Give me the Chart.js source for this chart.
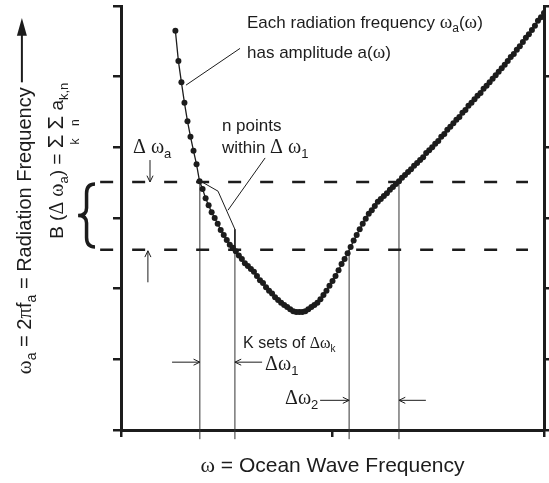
<!DOCTYPE html>
<html>
<head>
<meta charset="utf-8">
<script src="https://cdn.jsdelivr.net/npm/chart.js@4.4.1/dist/chart.umd.min.js"></script>
<style>
  html, body { margin: 0; padding: 0; background: #fff; }
  #wrap { width: 549px; height: 483px; }
</style>
</head>
<body>
<div id="wrap"><canvas id="chart" width="549" height="483"></canvas></div>
<script>
// ocean wave frequency samples (x) and radiation frequency (y)
const omega = [
  18, 19, 20, 21, 22, 23, 24, 25, 26, 27, 28, 29, 30, 31, 32, 33, 34, 35, 36, 37,
  38, 39, 40, 41, 42, 43, 44, 45, 46, 47, 48, 49, 50, 51, 52, 53, 54, 55, 56, 57,
  58, 59, 60, 61, 62, 63, 64, 65, 66, 67, 68, 69, 70, 71, 72, 73, 74, 75, 76, 77,
  78, 79, 80, 81, 82, 83, 84, 85, 86, 87, 88, 89, 90, 91, 92, 93, 94, 95, 96, 97,
  98, 99, 100, 101, 102, 103, 104, 105, 106, 107, 108, 109, 110, 111, 112, 113, 114, 115, 116, 117,
  118, 119, 120, 121, 122, 123, 124, 125, 126, 127, 128, 129, 130, 131, 132, 133, 134, 135, 136, 137,
  138, 139, 140
];
const omegaA = [
  56.5, 52.2, 49.2, 46.3, 43.7, 41.5, 39.5, 37.6, 35.2, 34.1, 32.8, 31.8, 30.8, 30.0, 29.2, 28.3, 27.6, 26.9, 26.2, 25.8,
  25.3, 24.7, 24.2, 23.6, 23.2, 22.8, 22.4, 21.8, 21.2, 20.8, 20.2, 19.7, 19.3, 18.8, 18.4, 18.0, 17.7, 17.4, 17.1, 16.8,
  16.7, 16.7, 16.7, 16.8, 17.1, 17.4, 17.7, 18.0, 18.5, 19.1, 19.7, 20.4, 21.1, 21.8, 22.6, 23.5, 24.2, 25.0, 25.9, 26.8,
  27.6, 28.4, 29.2, 29.9, 30.6, 31.1, 31.7, 32.3, 32.7, 33.1, 33.5, 34.0, 34.4, 34.8, 35.2, 35.7, 36.1, 36.5, 36.9, 37.4,
  37.8, 38.2, 38.6, 39.2, 39.6, 40.0, 40.5, 40.9, 41.5, 41.9, 42.5, 42.9, 43.4, 43.9, 44.3, 44.9, 45.3, 45.9, 46.3, 46.8,
  47.3, 47.7, 48.3, 48.7, 49.2, 49.7, 50.2, 50.7, 51.2, 51.7, 52.2, 52.8, 53.2, 53.8, 54.3, 54.9, 55.5, 56.0, 56.6, 57.2,
  57.9, 58.4, 59.0
];
const xTicks = [0, 70, 140];
const yTicks = [0, 10, 20, 30, 40, 50, 60];

// band limits: Δωa on the radiation axis, Δω1 / Δω2 on the wave axis
const bandA = [25.5, 35.1];
const band1 = [26.1, 37.7];
const band2 = [75.5, 92.0];

const INK = "#1c1c1c";
const SANS = '"Liberation Sans", Arial, sans-serif';
const SERIF = '"Liberation Serif", "Times New Roman", serif';
const f = (size, fam) => size + "px " + fam;

function seg(points, extra) {
  return Object.assign({
    data: points.map(p => ({ x: p[0], y: p[1] })),
    showLine: true,
    borderColor: INK,
    borderWidth: 1,
    pointRadius: 0,
    clip: false,
    tension: 0
  }, extra || {});
}

function drawRuns(ctx, x, y, runs, align) {
  let w = 0;
  runs.forEach(r => { ctx.font = r.f; r.w = ctx.measureText(r.t).width; w += r.w; });
  let cx = align === "center" ? x - w / 2 : x;
  runs.forEach(r => {
    ctx.font = r.f;
    ctx.fillText(r.t, cx, y + (r.dy || 0));
    r.x = cx;
    cx += r.w;
  });
  return runs;
}

function arrow(ctx, x1, y1, x2, y2, head) {
  const a = Math.atan2(y2 - y1, x2 - x1);
  ctx.beginPath();
  ctx.moveTo(x1, y1);
  ctx.lineTo(x2, y2);
  ctx.moveTo(x2 - head * Math.cos(a - 0.45), y2 - head * Math.sin(a - 0.45));
  ctx.lineTo(x2, y2);
  ctx.lineTo(x2 - head * Math.cos(a + 0.45), y2 - head * Math.sin(a + 0.45));
  ctx.stroke();
}

const annotate = {
  id: "annotate",
  afterDraw(chart) {
    const ctx = chart.ctx;
    const X = v => chart.scales.x.getPixelForValue(v);
    const Y = v => chart.scales.y.getPixelForValue(v);
    ctx.save();
    ctx.fillStyle = INK;
    ctx.strokeStyle = INK;
    ctx.textBaseline = "alphabetic";

    // labels inside the plot
    drawRuns(ctx, X(41.7), Y(56.9), [
      { t: "Each radiation frequency ", f: f(17, SANS) },
      { t: "ω", f: f(19, SERIF) },
      { t: "a", f: f(12, SANS), dy: 4 },
      { t: "(", f: f(17, SANS) },
      { t: "ω", f: f(19, SERIF) },
      { t: ")", f: f(17, SANS) }
    ]);
    drawRuns(ctx, X(41.7), Y(52.6), [
      { t: "has amplitude a(", f: f(17, SANS) },
      { t: "ω", f: f(19, SERIF) },
      { t: ")", f: f(17, SANS) }
    ]);
    drawRuns(ctx, X(4.0), Y(39.2), [
      { t: "Δ ω", f: f(20, SERIF) },
      { t: "a", f: f(13, SANS), dy: 5 }
    ]);
    drawRuns(ctx, X(33.4), Y(42.3), [{ t: "n points", f: f(17, SANS) }]);
    drawRuns(ctx, X(33.4), Y(39.2), [
      { t: "within ", f: f(17, SANS) },
      { t: "Δ ω", f: f(20, SERIF) },
      { t: "1", f: f(13, SANS), dy: 5 }
    ]);
    drawRuns(ctx, X(40.4), Y(11.6), [
      { t: "K sets of ", f: f(16, SANS) },
      { t: "Δω", f: f(16, SERIF) },
      { t: "k", f: f(10, SANS), dy: 4 }
    ]);
    drawRuns(ctx, X(47.7), Y(8.5), [
      { t: "Δω", f: f(20, SERIF) },
      { t: "1", f: f(13, SANS), dy: 5 }
    ]);
    drawRuns(ctx, X(54.3), Y(3.7), [
      { t: "Δω", f: f(20, SERIF) },
      { t: "2", f: f(13, SANS), dy: 5 }
    ]);

    // arrows
    ctx.lineWidth = 1;
    arrow(ctx, X(9.6), Y(38.2), X(9.6), Y(bandA[1]), 7);
    arrow(ctx, X(8.9), Y(20.9), X(8.9), Y(bandA[0]) + 1, 7);
    arrow(ctx, X(16.9), Y(9.6), X(band1[0]), Y(9.6), 7);
    arrow(ctx, X(46.7), Y(9.6), X(band1[1]), Y(9.6), 7);
    arrow(ctx, X(65.9), Y(4.2), X(band2[0]), Y(4.2), 7);
    arrow(ctx, X(100.9), Y(4.2), X(band2[1]), Y(4.2), 7);

    // x title
    drawRuns(ctx, X(70), Y(-5.9), [
      { t: "ω", f: f(22, SERIF) },
      { t: " = Ocean Wave Frequency", f: f(21, SANS) }
    ], "center");

    // y title, rotated
    ctx.save();
    ctx.translate(X(-29.8), Y(28.2));
    ctx.rotate(-Math.PI / 2);
    drawRuns(ctx, 0, 0, [
      { t: "ω", f: f(21, SERIF) },
      { t: "a", f: f(14, SANS), dy: 5 },
      { t: " = 2", f: f(20, SANS) },
      { t: "π", f: f(21, SERIF) },
      { t: "f", f: f(20, SANS) },
      { t: "a", f: f(14, SANS), dy: 5 },
      { t: " = Radiation Frequency", f: f(20, SANS) }
    ], "center");
    ctx.restore();

    // arrow above the y title
    const ax = X(-32.8);
    ctx.lineWidth = 2;
    ctx.beginPath();
    ctx.moveTo(ax, Y(49.2));
    ctx.lineTo(ax, Y(56));
    ctx.stroke();
    ctx.beginPath();
    ctx.moveTo(ax, Y(58.3));
    ctx.lineTo(ax - 5, Y(55.8));
    ctx.lineTo(ax + 5, Y(55.8));
    ctx.closePath();
    ctx.fill();

    // B(Δωa) label, rotated
    ctx.save();
    ctx.translate(X(-19.2), Y(38.1));
    ctx.rotate(-Math.PI / 2);
    const runs = drawRuns(ctx, 0, 0, [
      { t: "B (", f: f(19, SANS) },
      { t: "Δ ω", f: f(20, SERIF) },
      { t: "a", f: f(13, SANS), dy: 5 },
      { t: ") = ", f: f(19, SANS) },
      { t: "Σ", f: f(22, SANS) },
      { t: " ", f: f(19, SANS) },
      { t: "Σ", f: f(22, SANS) },
      { t: " a", f: f(19, SANS) },
      { t: "k,n", f: f(13, SANS), dy: 5 }
    ], "center");
    ctx.font = f(12, SANS);
    ctx.textAlign = "center";
    ctx.fillText("k", runs[4].x + runs[4].w / 2, 16);
    ctx.fillText("n", runs[6].x + runs[6].w / 2, 16);
    ctx.restore();

    // curly brace over the Δωa band
    const xe = X(-8.6), xt = X(-14.2), xm = (xe + xt) / 2;
    const yt = Y(34.8), yb = Y(25.9), ym = (yt + yb) / 2, h = yb - yt;
    ctx.lineWidth = 3.5;
    ctx.beginPath();
    ctx.moveTo(xe, yt);
    ctx.quadraticCurveTo(xm, yt, xm, yt + h * 0.15);
    ctx.lineTo(xm, ym - h * 0.12);
    ctx.quadraticCurveTo(xm, ym, xt, ym);
    ctx.quadraticCurveTo(xm, ym, xm, ym + h * 0.12);
    ctx.lineTo(xm, yb - h * 0.15);
    ctx.quadraticCurveTo(xm, yb, xe, yb);
    ctx.stroke();
    ctx.restore();
  }
};

const tickGrid = len => ({
  drawOnChartArea: false,
  drawTicks: true,
  tickLength: len,
  color: INK,
  lineWidth: 2.5
});

new Chart(document.getElementById("chart"), {
  type: "scatter",
  data: {
    datasets: [
      {
        data: omega.map((x, i) => ({ x: x, y: omegaA[i] })),
        showLine: true,
        borderColor: INK,
        borderWidth: 1.3,
        pointRadius: 3,
        pointBackgroundColor: INK,
        pointBorderWidth: 0,
        tension: 0
      },
      seg([[-6.9, bandA[1]], [134.7, bandA[1]]], { borderWidth: 2.5, borderDash: [13, 19] }),
      seg([[-6.9, bandA[0]], [134.7, bandA[0]]], { borderWidth: 2.5, borderDash: [13, 19] }),
      seg([[band1[0], -1.3], [band1[0], bandA[1]]], { borderColor: "#333" }),
      seg([[band1[1], -1.3], [band1[1], bandA[0]]], { borderColor: "#333" }),
      seg([[band2[0], -1.3], [band2[0], bandA[0]]], { borderColor: "#333" }),
      seg([[band2[1], -1.3], [band2[1], bandA[1]]], { borderColor: "#333" }),
      seg([[26.8, 35.1], [32.1, 33.8], [37.7, 28.4], [37.7, 25.5]]),
      seg([[47.7, 38.5], [35.4, 31.1]]),
      seg([[39.4, 54.0], [21.5, 48.8]])
    ]
  },
  options: {
    responsive: false,
    devicePixelRatio: 1,
    animation: false,
    layout: { padding: { top: 6, left: 0, right: 0, bottom: 0 } },
    plugins: { legend: { display: false }, tooltip: { enabled: false } },
    scales: {
      x: {
        type: "linear",
        min: xTicks[0],
        max: xTicks[xTicks.length - 1],
        afterBuildTicks: s => { s.ticks = xTicks.map(v => ({ value: v })); },
        ticks: { display: false },
        grid: tickGrid(7),
        border: { display: true, width: 3, color: INK },
        afterFit: s => { s.height = 53; }
      },
      y: {
        type: "linear",
        position: "left",
        min: yTicks[0],
        max: yTicks[yTicks.length - 1],
        afterBuildTicks: s => { s.ticks = yTicks.map(v => ({ value: v })); },
        ticks: { display: false },
        grid: tickGrid(8),
        border: { display: true, width: 3, color: INK },
        afterFit: s => { s.width = 121; }
      },
      y2: {
        type: "linear",
        position: "right",
        min: yTicks[0],
        max: yTicks[yTicks.length - 1],
        afterBuildTicks: s => { s.ticks = yTicks.map(v => ({ value: v })); },
        ticks: { display: false },
        grid: tickGrid(5),
        border: { display: true, width: 3, color: INK },
        afterFit: s => { s.width = 5; }
      }
    }
  },
  plugins: [annotate]
});
</script>
</body>
</html>
